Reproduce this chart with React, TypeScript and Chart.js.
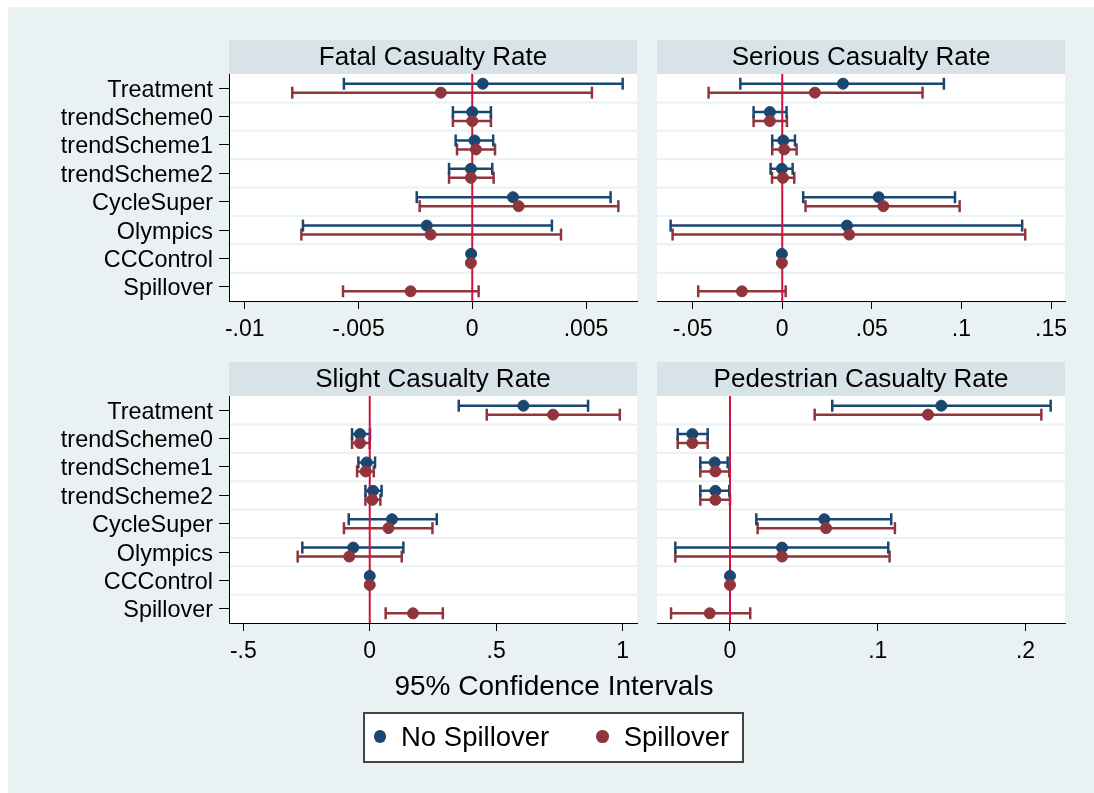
import React, { useEffect, useRef } from "react";
import { Chart, registerables } from "chart.js";

Chart.register(...registerables);

const FONT = '"Liberation Sans", Arial, Helvetica, sans-serif';
const NAVY = "#1a476f";
const MAROON = "#90353b";
const ZERO_LINE = "#d3113c";
const PAGE_BG = "#e9f1f3";
const BAND_BG = "#d8e3e9";

// Coefficient rows (top to bottom)
const rowLabels = [
  "Treatment",
  "trendScheme0",
  "trendScheme1",
  "trendScheme2",
  "CycleSuper",
  "Olympics",
  "CCControl",
  "Spillover",
];
const seriesLabels = ["No Spillover", "Spillover"];

// Fatal casualty rate
const fatalNoEst = [0.00046, 0.0, 0.0001, -0.00006, 0.00179, -0.002, -0.00005, null];
const fatalNoLo = [-0.00564, -0.00085, -0.00073, -0.00102, -0.00244, -0.00744, -0.00005, null];
const fatalNoHi = [0.00661, 0.00082, 0.00092, 0.00088, 0.00608, 0.0035, -0.00005, null];
const fatalSpEst = [-0.00138, 0.0, 0.00016, -0.00006, 0.00204, -0.00183, -0.00006, -0.00271];
const fatalSpLo = [-0.00791, -0.00085, -0.00067, -0.00102, -0.00231, -0.00751, -0.00006, -0.00568];
const fatalSpHi = [0.00526, 0.00082, 0.001, 0.00094, 0.00642, 0.0039, -0.00006, 0.00028];
const fatalTicks = [-0.01, -0.005, 0, 0.005];
const fatalTickLabels = ["-.01", "-.005", "0", ".005"];

// Serious casualty rate
const seriousNoEst = [0.0339, -0.0069, 0.0006, -0.0002, 0.0538, 0.0361, -0.0002, null];
const seriousNoLo = [-0.0234, -0.016, -0.0056, -0.0065, 0.0117, -0.0623, -0.0002, null];
const seriousNoHi = [0.0902, 0.0024, 0.0071, 0.0058, 0.0964, 0.1339, -0.0002, null];
const seriousSpEst = [0.0182, -0.0069, 0.0011, 0.0004, 0.0564, 0.0374, -0.0002, -0.0225];
const seriousSpLo = [-0.0411, -0.016, -0.0056, -0.0057, 0.013, -0.0612, -0.0002, -0.0469];
const seriousSpHi = [0.0783, 0.0026, 0.008, 0.0067, 0.099, 0.1356, -0.0002, 0.0019];
const seriousTicks = [-0.05, 0, 0.05, 0.1, 0.15];
const seriousTickLabels = ["-.05", "0", ".05", ".1", ".15"];

// Slight casualty rate
const slightNoEst = [0.6077, -0.0384, -0.012, 0.013, 0.088, -0.065, 0.0, null];
const slightNoLo = [0.352, -0.07, -0.045, -0.017, -0.083, -0.2666, 0.0, null];
const slightNoHi = [0.8635, 0.001, 0.021, 0.047, 0.265, 0.133, 0.0, null];
const slightSpEst = [0.725, -0.0384, -0.016, 0.01, 0.074, -0.081, 0.0, 0.171];
const slightSpLo = [0.4628, -0.07, -0.05, -0.017, -0.102, -0.285, 0.0, 0.063];
const slightSpHi = [0.989, 0.0, 0.016, 0.042, 0.248, 0.1266, 0.0, 0.289];
const slightTicks = [-0.5, 0, 0.5, 1];
const slightTickLabels = ["-.5", "0", ".5", "1"];

// Pedestrian casualty rate
const pedNoEst = [0.143, -0.0255, -0.0104, -0.0099, 0.0638, 0.0352, 0.0, null];
const pedNoLo = [0.0692, -0.0354, -0.0201, -0.0201, 0.0178, -0.037, 0.0, null];
const pedNoHi = [0.217, -0.0151, -0.0016, -0.0005, 0.1091, 0.1071, 0.0, null];
const pedSpEst = [0.134, -0.0255, -0.0099, -0.0099, 0.065, 0.0352, 0.0, -0.0137];
const pedSpLo = [0.0573, -0.0354, -0.0201, -0.0201, 0.0187, -0.037, 0.0, -0.0399];
const pedSpHi = [0.2107, -0.0151, -0.0005, 0.0, 0.1116, 0.108, 0.0, 0.0137];
const pedTicks = [0, 0.1, 0.2];
const pedTickLabels = ["0", ".1", ".2"];

// vertical offset of each series inside its row (in row units)
const ROW_SHIFT = 0.158;

type Val = number | null;

function ciPoints(lo: Val[], hi: Val[], shift: number) {
  const pts: { x: number; y: number }[] = [];
  rowLabels.forEach((_, i) => {
    const a = lo[i];
    const b = hi[i];
    if (a == null || b == null) return;
    pts.push({ x: a, y: i + shift }, { x: b, y: i + shift }, { x: NaN, y: NaN });
  });
  return pts;
}

function estPoints(est: Val[], shift: number) {
  const pts: { x: number; y: number }[] = [];
  est.forEach((v, i) => {
    if (v == null) return;
    pts.push({ x: v, y: i + shift });
  });
  return pts;
}

// white plotting region, title band and row separators
const panelFrame = {
  id: "panelFrame",
  beforeDraw(chart: any, _args: any, opts: any) {
    const { ctx, chartArea } = chart;
    const { left, right, top, bottom } = chartArea;
    ctx.save();
    ctx.fillStyle = "#ffffff";
    ctx.fillRect(left, top, right - left, bottom - top);
    ctx.fillStyle = BAND_BG;
    ctx.fillRect(left, top - 34, right - left, 34);
    ctx.fillStyle = "#000000";
    ctx.font = `26px ${FONT}`;
    ctx.textAlign = "center";
    ctx.textBaseline = "alphabetic";
    ctx.fillText(opts.title, (left + right) / 2, top - 9);
    const y = chart.scales.y;
    ctx.strokeStyle = PAGE_BG;
    ctx.lineWidth = 2;
    for (let i = 0; i < rowLabels.length - 1; i++) {
      const py = y.getPixelForValue(i + 0.5);
      ctx.beginPath();
      ctx.moveTo(left, py);
      ctx.lineTo(right, py);
      ctx.stroke();
    }
    ctx.restore();
  },
};

type PanelProps = {
  title: string;
  noEst: Val[];
  noLo: Val[];
  noHi: Val[];
  spEst: Val[];
  spLo: Val[];
  spHi: Val[];
  tickValues: number[];
  tickLabels: string[];
  xMin: number;
  xMax: number;
  showRows: boolean;
  left: number;
  top: number;
  width: number;
  height: number;
};

function ciDataset(label: string, data: any[], color: string) {
  return {
    label,
    data,
    showLine: true,
    spanGaps: false,
    borderColor: color,
    borderWidth: 2.5,
    pointStyle: "line",
    pointRotation: 90,
    pointRadius: 6,
    pointBorderWidth: 2.5,
    pointBorderColor: color,
    order: 3,
  };
}

function Panel(p: PanelProps) {
  const ref = useRef<HTMLCanvasElement>(null);
  useEffect(() => {
    if (!ref.current) return;
    const tickFont = { family: FONT, size: 23 };
    const chart = new Chart(ref.current, {
      type: "scatter",
      data: {
        datasets: [
          ciDataset(seriesLabels[0] + " CI", ciPoints(p.noLo, p.noHi, -ROW_SHIFT), NAVY),
          ciDataset(seriesLabels[1] + " CI", ciPoints(p.spLo, p.spHi, ROW_SHIFT), MAROON),
          {
            label: "zero",
            data: [
              { x: 0, y: -0.5 },
              { x: 0, y: rowLabels.length - 0.5 },
            ],
            showLine: true,
            borderColor: ZERO_LINE,
            borderWidth: 2,
            pointRadius: 0,
            order: 2,
          },
          {
            label: seriesLabels[0],
            data: estPoints(p.noEst, -ROW_SHIFT),
            pointStyle: "circle",
            pointRadius: 5.5,
            pointBorderWidth: 1,
            backgroundColor: NAVY,
            borderColor: NAVY,
            order: 1,
          },
          {
            label: seriesLabels[1],
            data: estPoints(p.spEst, ROW_SHIFT),
            pointStyle: "circle",
            pointRadius: 5.5,
            pointBorderWidth: 1,
            backgroundColor: MAROON,
            borderColor: MAROON,
            order: 0,
          },
        ],
      } as any,
      options: {
        animation: false,
        responsive: false,
        maintainAspectRatio: false,
        events: [],
        layout: {
          padding: {
            top: 47,
            left: p.showRows ? 0 : 9,
            right: p.showRows ? 11 : 29,
            bottom: 16,
          },
        },
        plugins: {
          legend: { display: false },
          tooltip: { enabled: false },
          panelFrame: { title: p.title },
        } as any,
        scales: {
          x: {
            type: "linear",
            min: p.xMin,
            max: p.xMax,
            bounds: "data",
            afterBuildTicks: (s: any) => {
              s.ticks = p.tickValues.map((v) => ({ value: v }));
            },
            afterFit: (s: any) => {
              s.height = 40;
            },
            ticks: {
              callback: (_v: any, i: number) => p.tickLabels[i],
              color: "#000",
              font: tickFont,
              padding: 7,
              maxRotation: 0,
              autoSkip: false,
            },
            grid: {
              drawOnChartArea: false,
              drawTicks: true,
              tickLength: 8,
              tickColor: "#000",
              tickWidth: 1,
            },
            border: { display: true, color: "#000", width: 1 },
          },
          y: {
            type: "linear",
            display: p.showRows,
            min: -0.5,
            max: rowLabels.length - 0.5,
            reverse: true,
            bounds: "data",
            afterBuildTicks: (s: any) => {
              s.ticks = rowLabels.map((_, i) => ({ value: i }));
            },
            afterFit: (s: any) => {
              if (p.showRows) s.width = 221;
            },
            ticks: {
              callback: (_v: any, i: number) => rowLabels[i],
              color: "#000",
              font: { family: FONT, size: 23.4 },
              padding: 6,
              labelOffset: 2,
              autoSkip: false,
            },
            grid: {
              drawOnChartArea: false,
              drawTicks: true,
              tickLength: 10,
              tickColor: "#000",
              tickWidth: 1,
            },
            border: { display: true, color: "#000", width: 1 },
          },
        },
      } as any,
      plugins: [panelFrame],
    });
    return () => chart.destroy();
  }, []);
  return (
    <canvas
      ref={ref}
      width={p.width}
      height={p.height}
      style={{ position: "absolute", left: p.left, top: p.top, width: p.width, height: p.height }}
    />
  );
}

const textStyle: React.CSSProperties = {
  position: "absolute",
  fontFamily: FONT,
  color: "#000",
  lineHeight: 1,
  whiteSpace: "nowrap",
};

export default function App() {
  return (
    <div
      style={{
        position: "fixed",
        left: 8,
        top: 7,
        width: 1086,
        height: 786,
        background: PAGE_BG,
        overflow: "hidden",
      }}
    >
      <Panel
        title="Fatal Casualty Rate"
        noEst={fatalNoEst}
        noLo={fatalNoLo}
        noHi={fatalNoHi}
        spEst={fatalSpEst}
        spLo={fatalSpLo}
        spHi={fatalSpHi}
        tickValues={fatalTicks}
        tickLabels={fatalTickLabels}
        xMin={-0.01069}
        xMax={0.00724}
        showRows={true}
        left={0}
        top={20}
        width={640}
        height={330}
      />
      <Panel
        title="Serious Casualty Rate"
        noEst={seriousNoEst}
        noLo={seriousNoLo}
        noHi={seriousNoHi}
        spEst={seriousSpEst}
        spLo={seriousSpLo}
        spHi={seriousSpHi}
        tickValues={seriousTicks}
        tickLabels={seriousTickLabels}
        xMin={-0.0699}
        xMax={0.1578}
        showRows={false}
        left={640}
        top={20}
        width={446}
        height={330}
      />
      <Panel
        title="Slight Casualty Rate"
        noEst={slightNoEst}
        noLo={slightNoLo}
        noHi={slightNoHi}
        spEst={slightSpEst}
        spLo={slightSpLo}
        spHi={slightSpHi}
        tickValues={slightTicks}
        tickLabels={slightTickLabels}
        xMin={-0.5566}
        xMax={1.057}
        showRows={true}
        left={0}
        top={342}
        width={640}
        height={330}
      />
      <Panel
        title="Pedestrian Casualty Rate"
        noEst={pedNoEst}
        noLo={pedNoLo}
        noHi={pedNoHi}
        spEst={pedSpEst}
        spLo={pedSpLo}
        spHi={pedSpHi}
        tickValues={pedTicks}
        tickLabels={pedTickLabels}
        xMin={-0.0494}
        xMax={0.2267}
        showRows={false}
        left={640}
        top={342}
        width={446}
        height={330}
      />

      <div style={{ ...textStyle, fontSize: 28, left: 546, top: 665.3, transform: "translateX(-50%)" }}>
        95% Confidence Intervals
      </div>

      <div
        style={{
          position: "absolute",
          left: 355,
          top: 704.7,
          width: 381,
          height: 51,
          boxSizing: "border-box",
          background: "#ffffff",
          border: "2px solid #444444",
        }}
      />
      <div
        style={{
          position: "absolute",
          left: 365.7,
          top: 723.4,
          width: 12.6,
          height: 12.6,
          borderRadius: "50%",
          background: NAVY,
        }}
      />
      <div style={{ ...textStyle, fontSize: 27.5, left: 393, top: 716.4 }}>{seriesLabels[0]}</div>
      <div
        style={{
          position: "absolute",
          left: 588,
          top: 723.4,
          width: 12.6,
          height: 12.6,
          borderRadius: "50%",
          background: MAROON,
        }}
      />
      <div style={{ ...textStyle, fontSize: 27.5, left: 615.7, top: 716.4 }}>{seriesLabels[1]}</div>
    </div>
  );
}
